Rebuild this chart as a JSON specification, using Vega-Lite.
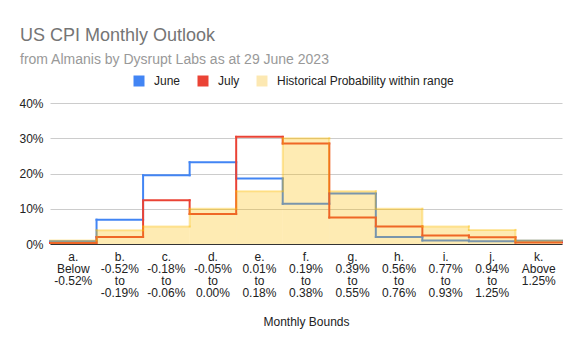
{
  "$schema": "https://vega.github.io/schema/vega-lite/v6.json",
  "width": 512,
  "height": 141,
  "autosize": {"type": "none"},
  "padding": {"left": 50, "top": 103, "right": 21, "bottom": 106},
  "background": "white",
  "title": {
    "text": "US CPI Monthly Outlook",
    "subtitle": "from Almanis by Dysrupt Labs as at 29 June 2023",
    "anchor": "start",
    "frame": "group",
    "dx": -30,
    "offset": 8,
    "font": "Arial",
    "fontSize": 18,
    "fontWeight": "normal",
    "color": "#757575",
    "subtitleFont": "Arial",
    "subtitleFontSize": 14,
    "subtitleColor": "#999999",
    "subtitlePadding": 8
  },
  "data": {
    "values": [
      {"bound": "a.|Below|-0.52%", "series": "June", "value": 0.8},
      {"bound": "b.|-0.52%|to|-0.19%", "series": "June", "value": 6.9},
      {"bound": "c.|-0.18%|to|-0.06%", "series": "June", "value": 19.5},
      {"bound": "d.|-0.05%|to|0.00%", "series": "June", "value": 23.2},
      {"bound": "e.|0.01%|to|0.18%", "series": "June", "value": 18.6},
      {"bound": "f.|0.19%|to|0.38%", "series": "June", "value": 11.4},
      {"bound": "g.|0.39%|to|0.55%", "series": "June", "value": 14.3},
      {"bound": "h.|0.56%|to|0.76%", "series": "June", "value": 2.0},
      {"bound": "i.|0.77%|to|0.93%", "series": "June", "value": 1.0},
      {"bound": "j.|0.94%|to|1.25%", "series": "June", "value": 0.8},
      {"bound": "k.|Above|1.25%", "series": "June", "value": 0.9},
      {"bound": "a.|Below|-0.52%", "series": "July", "value": 0.3},
      {"bound": "b.|-0.52%|to|-0.19%", "series": "July", "value": 2.0},
      {"bound": "c.|-0.18%|to|-0.06%", "series": "July", "value": 12.4},
      {"bound": "d.|-0.05%|to|0.00%", "series": "July", "value": 8.5},
      {"bound": "e.|0.01%|to|0.18%", "series": "July", "value": 30.4},
      {"bound": "f.|0.19%|to|0.38%", "series": "July", "value": 28.5},
      {"bound": "g.|0.39%|to|0.55%", "series": "July", "value": 7.5},
      {"bound": "h.|0.56%|to|0.76%", "series": "July", "value": 5.0},
      {"bound": "i.|0.77%|to|0.93%", "series": "July", "value": 2.4},
      {"bound": "j.|0.94%|to|1.25%", "series": "July", "value": 1.9},
      {"bound": "k.|Above|1.25%", "series": "July", "value": 0.4},
      {"bound": "a.|Below|-0.52%", "series": "Historical Probability within range", "value": 1.0},
      {"bound": "b.|-0.52%|to|-0.19%", "series": "Historical Probability within range", "value": 3.9},
      {"bound": "c.|-0.18%|to|-0.06%", "series": "Historical Probability within range", "value": 5.0},
      {"bound": "d.|-0.05%|to|0.00%", "series": "Historical Probability within range", "value": 10.0},
      {"bound": "e.|0.01%|to|0.18%", "series": "Historical Probability within range", "value": 15.0},
      {"bound": "f.|0.19%|to|0.38%", "series": "Historical Probability within range", "value": 30.0},
      {"bound": "g.|0.39%|to|0.55%", "series": "Historical Probability within range", "value": 15.0},
      {"bound": "h.|0.56%|to|0.76%", "series": "Historical Probability within range", "value": 10.0},
      {"bound": "i.|0.77%|to|0.93%", "series": "Historical Probability within range", "value": 5.0},
      {"bound": "j.|0.94%|to|1.25%", "series": "Historical Probability within range", "value": 4.0},
      {"bound": "k.|Above|1.25%", "series": "Historical Probability within range", "value": 1.0}
    ]
  },
  "transform": [
    {
      "window": [{"op": "lag", "field": "value", "as": "prev"}],
      "groupby": ["series"],
      "sort": [{"field": "bound", "order": "ascending"}]
    }
  ],
  "layer": [
    {
      "transform": [{"filter": "datum.series !== 'Historical Probability within range'"}],
      "mark": {"type": "rule", "strokeWidth": 2, "strokeCap": "square"},
      "encoding": {
        "x": {
          "field": "bound",
          "type": "nominal",
          "sort": "ascending",
          "bandPosition": 0,
          "scale": {"paddingInner": 0, "paddingOuter": 0},
          "axis": {
            "labelExpr": "split(datum.label, '|')",
            "labelAngle": 0,
            "labelFont": "Arial",
            "labelFontSize": 12,
            "labelLineHeight": 12,
            "labelColor": "#222222",
            "labelBaseline": "top",
            "labelPadding": 7,
            "labelOverlap": false,
            "ticks": false,
            "grid": false,
            "domainColor": "#333333",
            "domainWidth": 1,
            "title": "Monthly Bounds",
            "titleFont": "Arial",
            "titleFontSize": 12,
            "titleFontWeight": "normal",
            "titleColor": "#222222",
            "titlePadding": 18
          }
        },
        "x2": {"field": "bound", "bandPosition": 1},
        "y": {
          "field": "value",
          "type": "quantitative",
          "scale": {"domain": [0, 40], "nice": false},
          "axis": {
            "values": [0, 10, 20, 30, 40],
            "tickCount": 5,
            "labelExpr": "datum.value + '%'",
            "labelOverlap": false,
            "domain": false,
            "ticks": false,
            "grid": true,
            "gridColor": "#cccccc",
            "labelFont": "Arial",
            "labelFontSize": 12,
            "labelColor": "#222222",
            "labelPadding": 7,
            "title": null
          }
        },
        "color": {
          "field": "series",
          "type": "nominal",
          "scale": {
            "domain": ["June", "July", "Historical Probability within range"],
            "range": ["#4285f4", "#ea4335", "#fce8b2"]
          },
          "legend": {
            "orient": "none",
            "legendX": 83,
            "legendY": -28,
            "direction": "horizontal",
            "title": null,
            "symbolType": "square",
            "symbolSize": 121,
            "labelFont": "Arial",
            "labelFontSize": 12,
            "labelColor": "#222222",
            "labelOffset": 9,
            "labelLimit": 300,
            "columnPadding": 16,
            "encode": {
              "symbols": {
                "update": {
                  "fill": {"scale": "color", "field": "value"},
                  "fillOpacity": {"value": 1},
                  "strokeWidth": {"value": 0}
                }
              }
            }
          }
        }
      }
    },
    {
      "transform": [
        {"filter": "datum.series !== 'Historical Probability within range'"},
        {"filter": "isValid(datum.prev)"}
      ],
      "mark": {"type": "rule", "strokeWidth": 2, "strokeCap": "square"},
      "encoding": {
        "x": {"field": "bound", "type": "nominal", "sort": "ascending", "bandPosition": 0},
        "y": {"field": "value", "type": "quantitative"},
        "y2": {"field": "prev"},
        "color": {"field": "series", "type": "nominal"}
      }
    },
    {
      "transform": [{"filter": "datum.series === 'Historical Probability within range'"}],
      "mark": {"type": "bar", "color": "#fbbc04", "opacity": 0.3},
      "encoding": {
        "x": {"field": "bound", "type": "nominal", "sort": "ascending"},
        "y": {"field": "value", "type": "quantitative"}
      }
    },
    {
      "transform": [{"filter": "datum.series === 'Historical Probability within range'"}],
      "mark": {"type": "rule", "strokeWidth": 2, "strokeCap": "square", "color": "#fbbc04", "opacity": 0.35},
      "encoding": {
        "x": {"field": "bound", "type": "nominal", "sort": "ascending", "bandPosition": 0},
        "x2": {"field": "bound", "bandPosition": 1},
        "y": {"field": "value", "type": "quantitative"}
      }
    },
    {
      "transform": [
        {"filter": "datum.series === 'Historical Probability within range'"},
        {"filter": "isValid(datum.prev)"}
      ],
      "mark": {"type": "rule", "strokeWidth": 2, "strokeCap": "square", "color": "#fbbc04", "opacity": 0.35},
      "encoding": {
        "x": {"field": "bound", "type": "nominal", "sort": "ascending", "bandPosition": 0},
        "y": {"field": "value", "type": "quantitative"},
        "y2": {"field": "prev"}
      }
    }
  ],
  "config": {
    "view": {"stroke": null},
    "axisY": {"tickCount": 5}
  }
}
